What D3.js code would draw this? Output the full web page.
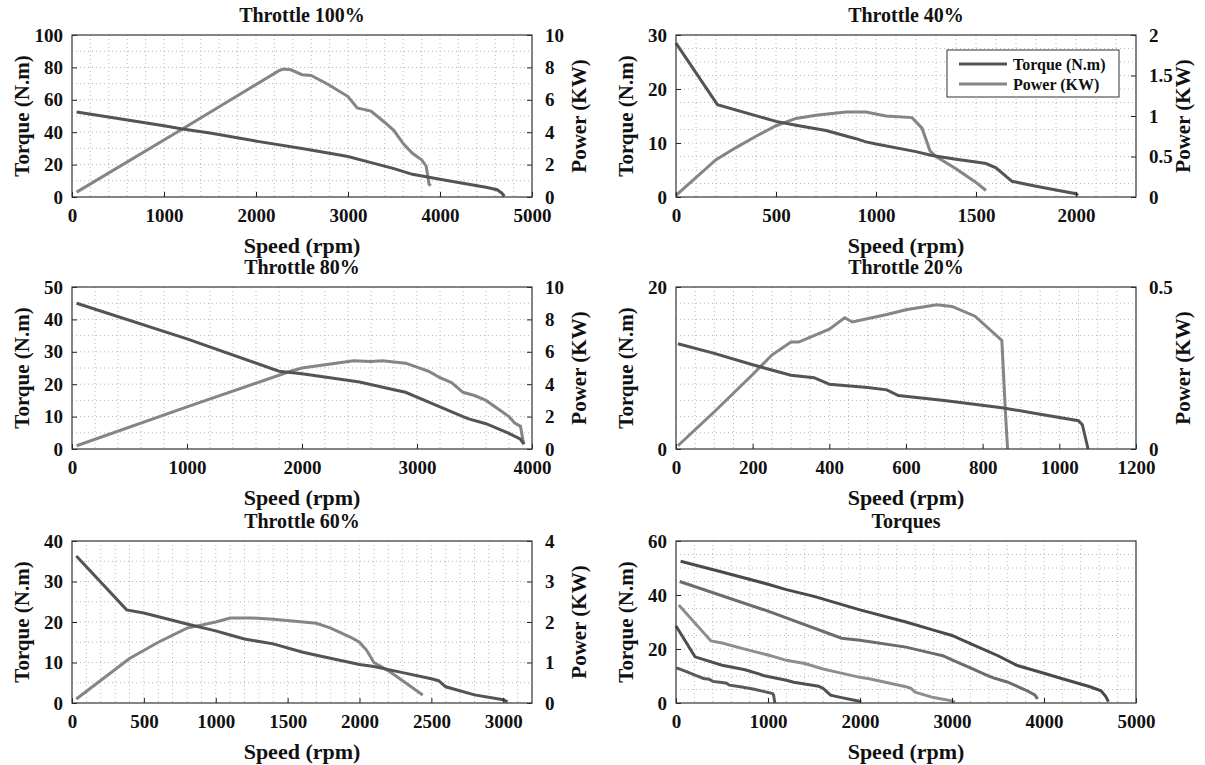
<!DOCTYPE html>
<html>
<head>
<meta charset="utf-8">
<script src="https://cdn.jsdelivr.net/npm/d3@7"></script>
<style>
  body { margin: 0; background: #fff; }
</style>
</head>
<body>
<svg id="chart" width="1205" height="765"></svg>
<script>
// Throttle 100%
const t100Speed = [50, 500, 1000, 1200, 1500, 2000, 2500, 2800, 3000, 3200, 3500, 3700, 4000, 4200, 4500, 4620, 4670, 4700];
const t100Torque = [52.5, 48.5, 44, 42, 39.5, 34.5, 30, 27, 25, 22, 17.5, 14, 11, 9, 6, 4.5, 2.5, 0.5];
const p100Speed = [50, 1200, 2250, 2300, 2380, 2500, 2600, 2800, 3000, 3100, 3250, 3400, 3500, 3600, 3700, 3800, 3850, 3870, 3880, 3900];
const p100Power = [0.3, 4.2, 7.8, 7.9, 7.85, 7.55, 7.5, 6.9, 6.2, 5.5, 5.3, 4.6, 4.1, 3.3, 2.7, 2.3, 1.9, 1.2, 0.8, 0.7];

// Throttle 80%
const t80Speed = [40, 1000, 1800, 2000, 2500, 2800, 2900, 3000, 3200, 3400, 3450, 3600, 3800, 3900, 3930];
const t80Torque = [45, 34, 24, 23.2, 20.7, 18.3, 17.5, 16, 13, 10, 9.3, 7.8, 4.8, 3.0, 1.5];
const p80Speed = [40, 1000, 1900, 2000, 2200, 2450, 2600, 2700, 2900, 3000, 3100, 3200, 3300, 3400, 3500, 3600, 3700, 3800, 3850, 3900, 3920, 3930];
const p80Power = [0.2, 2.6, 4.8, 5.0, 5.2, 5.45, 5.4, 5.45, 5.3, 5.05, 4.8, 4.4, 4.1, 3.5, 3.3, 3.0, 2.5, 2.0, 1.6, 1.4, 0.6, 0.3];

// Throttle 60%
const t60Speed = [30, 380, 500, 800, 1000, 1100, 1200, 1400, 1600, 1700, 2000, 2100, 2300, 2500, 2550, 2600, 2800, 3000, 3030];
const t60Torque = [36.3, 23, 22.2, 19.5, 17.8, 16.8, 15.8, 14.6, 12.6, 11.8, 9.5, 9.0, 7.5, 6.0, 5.5, 4.0, 2.0, 0.8, 0.3];
const p60Speed = [30, 400, 600, 800, 1000, 1100, 1250, 1400, 1700, 1800, 1950, 2000, 2050, 2100, 2200, 2300, 2440];
const p60Power = [0.1, 1.1, 1.5, 1.85, 2.0, 2.1, 2.1, 2.07, 1.97, 1.85, 1.6, 1.5, 1.3, 1.0, 0.8, 0.55, 0.2];

// Throttle 40%
const t40Speed = [0, 207, 500, 600, 750, 900, 950, 1000, 1200, 1280, 1400, 1500, 1550, 1600, 1680, 1800, 1900, 2000, 2010];
const t40Torque = [28.5, 17.1, 14, 13.3, 12.3, 10.8, 10.2, 9.8, 8.4, 7.7, 7.0, 6.5, 6.2, 5.4, 2.9, 2.0, 1.3, 0.6, 0.3];
const p40Speed = [0, 200, 300, 400, 500, 600, 700, 850, 950, 1050, 1180, 1230, 1270, 1300, 1400, 1500, 1550];
const p40Power = [0.02, 0.46, 0.61, 0.75, 0.88, 0.97, 1.01, 1.05, 1.05, 1.0, 0.98, 0.85, 0.57, 0.5, 0.35, 0.18, 0.08];

// Throttle 20%
const t20Speed = [5, 100, 200, 300, 360, 400, 500, 550, 580, 700, 850, 950, 1050, 1060, 1075];
const t20Torque = [13, 11.8, 10.4, 9.1, 8.8, 8.0, 7.6, 7.3, 6.6, 6.0, 5.1, 4.3, 3.5, 3.0, 0];
const p20Speed = [5, 100, 200, 250, 300, 320, 400, 440, 460, 550, 600, 680, 720, 780, 850, 860, 865];
const p20Power = [0.01, 0.115, 0.23, 0.29, 0.33, 0.33, 0.37, 0.405, 0.392, 0.415, 0.43, 0.445, 0.44, 0.41, 0.335, 0.1, 0];

const torqueColor = "#545454";
const powerColor = "#858585";
const FONT = "'Liberation Serif', 'Times New Roman', Times, serif";

const panels = [
  { title: "Throttle 100%", x: 72, y: 35, xMax: 5000, xStep: 1000, xMinor: 200,
    yMax: 100, yStep: 20, yMinor: 10, pMax: 10, pStep: 2, pFmt: d3.format("d"),
    torque: [t100Speed, t100Torque], power: [p100Speed, p100Power] },
  { title: "Throttle 40%", x: 676, y: 35, xMax: 2300, xStep: 500, xMinor: 100,
    yMax: 30, yStep: 10, yMinor: 2.5, pMax: 2, pStep: 0.5, pFmt: d3.format("~g"),
    torque: [t40Speed, t40Torque], power: [p40Speed, p40Power], legend: true },
  { title: "Throttle 80%", x: 72, y: 287, xMax: 4000, xStep: 1000, xMinor: 200,
    yMax: 50, yStep: 10, yMinor: 5, pMax: 10, pStep: 2, pFmt: d3.format("d"),
    torque: [t80Speed, t80Torque], power: [p80Speed, p80Power] },
  { title: "Throttle 20%", x: 676, y: 287, xMax: 1200, xStep: 200, xMinor: 50,
    yMax: 20, yStep: 20, yMinor: 2, pMax: 0.5, pStep: 0.5, pFmt: d3.format("~g"),
    torque: [t20Speed, t20Torque], power: [p20Speed, p20Power] },
  { title: "Throttle 60%", x: 72, y: 541, xMax: 3200, xStep: 500, xMinor: 100,
    yMax: 40, yStep: 10, yMinor: 5, pMax: 4, pStep: 1, pFmt: d3.format("d"),
    torque: [t60Speed, t60Torque], power: [p60Speed, p60Power] },
  { title: "Torques", x: 676, y: 541, xMax: 5000, xStep: 1000, xMinor: 200,
    yMax: 60, yStep: 20, yMinor: 5,
    curves: [
      [t100Speed, t100Torque, "#4a4a4a"],
      [t80Speed, t80Torque, "#6c6c6c"],
      [t60Speed, t60Torque, "#8e8e8e"],
      [t40Speed, t40Torque, "#505050"],
      [t20Speed, t20Torque, "#5a5a5a"]
    ] }
];

const W = 460, H = 162;
const svg = d3.select("#chart");

function ticksFor(max, step) {
  return d3.range(0, max + step / 2, step);
}

function styleAxis(a) {
  a.select(".domain").remove();
  a.attr("font-family", FONT);
  a.selectAll("line").attr("stroke", "#222");
  a.selectAll("text").attr("font-size", 19).attr("font-weight", "bold")
    .attr("font-family", FONT).attr("fill", "#111");
}

function label(g, txt, size) {
  return g.append("text").attr("font-family", FONT).attr("font-weight", "bold")
    .attr("font-size", size).attr("fill", "#111").attr("text-anchor", "middle").text(txt);
}

panels.forEach(p => {
  const g = svg.append("g").attr("transform", `translate(${p.x},${p.y})`);
  const x = d3.scaleLinear().domain([0, p.xMax]).range([0, W]);
  const y = d3.scaleLinear().domain([0, p.yMax]).range([H, 0]);

  // minor dotted grid
  const grid = g.append("g").attr("stroke", "#b8b8b8").attr("stroke-width", 1)
    .attr("stroke-dasharray", "1,3");
  grid.selectAll(".gx").data(ticksFor(p.xMax, p.xMinor).filter(v => v > 0 && v < p.xMax))
    .join("line").attr("x1", d => x(d)).attr("x2", d => x(d)).attr("y1", 0).attr("y2", H);
  grid.selectAll(".gy").data(ticksFor(p.yMax, p.yMinor).filter(v => v > 0 && v < p.yMax))
    .join("line").attr("y1", d => y(d)).attr("y2", d => y(d)).attr("x1", 0).attr("x2", W);

  if (p.curves) {
    p.curves.forEach(c => {
      g.append("path")
        .attr("d", d3.line().x((d, i) => x(c[0][i])).y(d => y(d))(c[1]))
        .attr("fill", "none").attr("stroke", c[2]).attr("stroke-width", 3);
    });
  } else {
    const yp = d3.scaleLinear().domain([0, p.pMax]).range([H, 0]);
    g.append("path")
      .attr("d", d3.line().x((d, i) => x(p.power[0][i])).y(d => yp(d))(p.power[1]))
      .attr("fill", "none").attr("stroke", powerColor).attr("stroke-width", 3);
    g.append("path")
      .attr("d", d3.line().x((d, i) => x(p.torque[0][i])).y(d => y(d))(p.torque[1]))
      .attr("fill", "none").attr("stroke", torqueColor).attr("stroke-width", 3);

    const ra = g.append("g").attr("transform", `translate(${W},0)`)
      .call(d3.axisRight(yp).tickValues(ticksFor(p.pMax, p.pStep)).tickSizeInner(-5).tickSizeOuter(0)
        .tickPadding(13).tickFormat(p.pFmt));
    styleAxis(ra);

    label(g, "Power (KW)", 21)
      .attr("transform", `translate(${W + 47},${H / 2}) rotate(-90)`)
      .attr("dy", "0.35em");
  }

  const xa = g.append("g").attr("transform", `translate(0,${H})`)
    .call(d3.axisBottom(x).tickValues(ticksFor(p.xMax, p.xStep).filter(v => v <= p.xMax))
      .tickSizeInner(-5).tickSizeOuter(0).tickPadding(12).tickFormat(d3.format("d")));
  styleAxis(xa);

  const ya = g.append("g")
    .call(d3.axisLeft(y).tickValues(ticksFor(p.yMax, p.yStep)).tickSizeInner(-5).tickSizeOuter(0)
      .tickPadding(9).tickFormat(d3.format("d")));
  styleAxis(ya);

  // box
  g.append("rect").attr("width", W).attr("height", H)
    .attr("fill", "none").attr("stroke", "#333").attr("stroke-width", 1.2);

  label(g, p.title, 20).attr("x", W / 2).attr("y", -13);
  label(g, "Speed (rpm)", 22).attr("x", W / 2).attr("y", H + 56);
  label(g, "Torque (N.m)", 21)
    .attr("transform", `translate(-50,${H / 2}) rotate(-90)`)
    .attr("dy", "0.35em");

  if (p.legend) {
    const lg = g.append("g").attr("transform", `translate(${W - 189},15)`);
    lg.append("rect").attr("width", 172).attr("height", 47)
      .attr("fill", "#fff").attr("stroke", "#333").attr("stroke-width", 1);
    const items = [["Torque (N.m)", torqueColor], ["Power (KW)", powerColor]];
    items.forEach((it, i) => {
      const yy = 14 + i * 20;
      lg.append("line").attr("x1", 12).attr("x2", 60).attr("y1", yy).attr("y2", yy)
        .attr("stroke", it[1]).attr("stroke-width", 3);
      label(lg, it[0], 16).attr("text-anchor", "start")
        .attr("x", 66).attr("y", yy).attr("dy", "0.35em");
    });
  }
});
</script>
</body>
</html>
